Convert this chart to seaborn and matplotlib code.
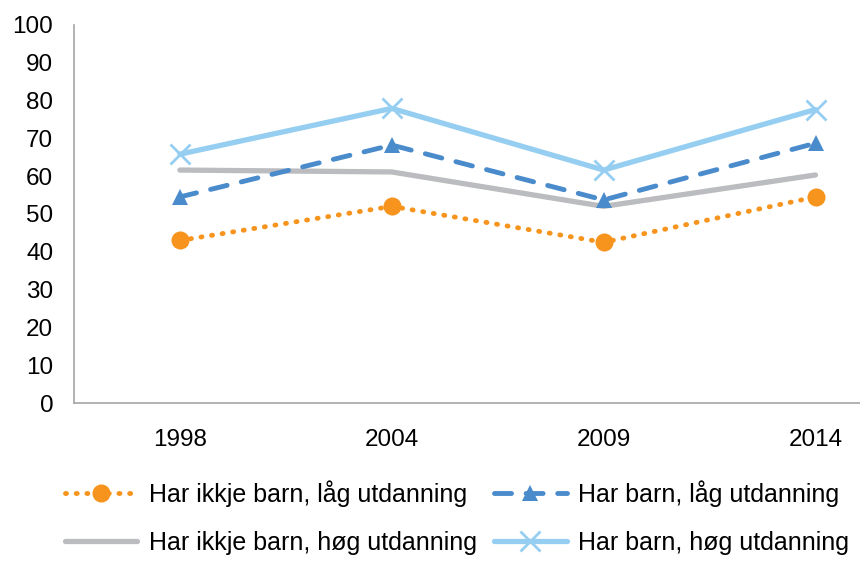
import numpy as np
import pandas as pd
import matplotlib
matplotlib.use("Agg")
import matplotlib.pyplot as plt
import seaborn as sns

years = ["1998", "2004", "2009", "2014"]
ikkje_barn_laag = [43.0, 52.0, 42.5, 54.5]
barn_laag = [54.5, 68.2, 53.7, 68.7]
ikkje_barn_hoeg = [61.6, 61.1, 52.0, 60.3]
barn_hoeg = [65.8, 77.9, 61.6, 77.6]

labels = ["Har ikkje barn, låg utdanning", "Har barn, låg utdanning",
          "Har ikkje barn, høg utdanning", "Har barn, høg utdanning"]

sns.set_style("white")
plt.rcParams['font.family'] = ['Liberation Sans', 'DejaVu Sans']
plt.rcParams['text.color'] = 'black'
plt.rcParams['xtick.labelcolor'] = 'black'
plt.rcParams['ytick.labelcolor'] = 'black'

df = pd.DataFrame({"pos": np.arange(len(years))})
df[labels[0]] = ikkje_barn_laag
df[labels[1]] = barn_laag
df[labels[2]] = ikkje_barn_hoeg
df[labels[3]] = barn_hoeg

fig = plt.figure(figsize=(8.6, 5.63), dpi=100)
ax = fig.add_axes([0.086, 0.284, 0.914, 0.672])

styles = {
    labels[0]: dict(color="#F7941D", linestyle=(0, (0.2, 2.0)), dash_capstyle="round",
                    linewidth=3.5, marker="o", markersize=13, markeredgewidth=0),
    labels[1]: dict(color="#4A8BCC", linestyle=(0, (3.5, 3.0)), dash_capstyle="round",
                    linewidth=3.5, marker="^", markersize=12, markeredgewidth=0),
    labels[2]: dict(color="#BBBCBF", linestyle="-", solid_capstyle="round",
                    linewidth=3.8, marker=None),
    labels[3]: dict(color="#95CEF0", linestyle="-", linewidth=3.8,
                    marker="x", markersize=14, markeredgewidth=2,
                    markeredgecolor="#95CEF0"),
}

for name in [labels[2], labels[1], labels[3], labels[0]]:
    st = styles[name]
    sns.lineplot(data=df, x="pos", y=name, ax=ax, label=name, **st)

ax.set_xlim(-0.5, 3.21)
ax.set_ylim(0, 100)
ax.set_yticks(np.arange(0, 101, 10))
ax.set_xticks(np.arange(len(years)))
ax.set_xticklabels(years)
ax.set_xticks(np.arange(len(years)) - 0.5, minor=True)
ax.tick_params(axis="x", which="major", length=0, pad=19, labelsize=17.5)
ax.tick_params(axis="x", which="minor", length=5, width=1.2, color="#A6A6A6", direction="out")
ax.tick_params(axis="y", length=5, width=1.2, color="#A6A6A6", direction="out", pad=10, labelsize=17.5)
ax.set_xlabel("")
ax.set_ylabel("")
for s in ["top", "right"]:
    ax.spines[s].set_visible(False)
for s in ["left", "bottom"]:
    ax.spines[s].set_color("#A6A6A6")
    ax.spines[s].set_linewidth(1.2)
ax.get_legend().remove()

handles, labs = ax.get_legend_handles_labels()
# column-major fill, so this gives rows in the reference order
leg_order = [labels[0], labels[2], labels[1], labels[3]]
order = [labs.index(l) for l in leg_order]
fig.legend([handles[i] for i in order], [labs[i] for i in order],
           loc="lower left", bbox_to_anchor=(0.058, -0.012), ncol=2, frameon=False,
           fontsize=18, handlelength=2.9, handletextpad=0.45, columnspacing=0.7,
           labelspacing=0.95, borderaxespad=0.2)

fig.savefig("out.png", dpi=100)
